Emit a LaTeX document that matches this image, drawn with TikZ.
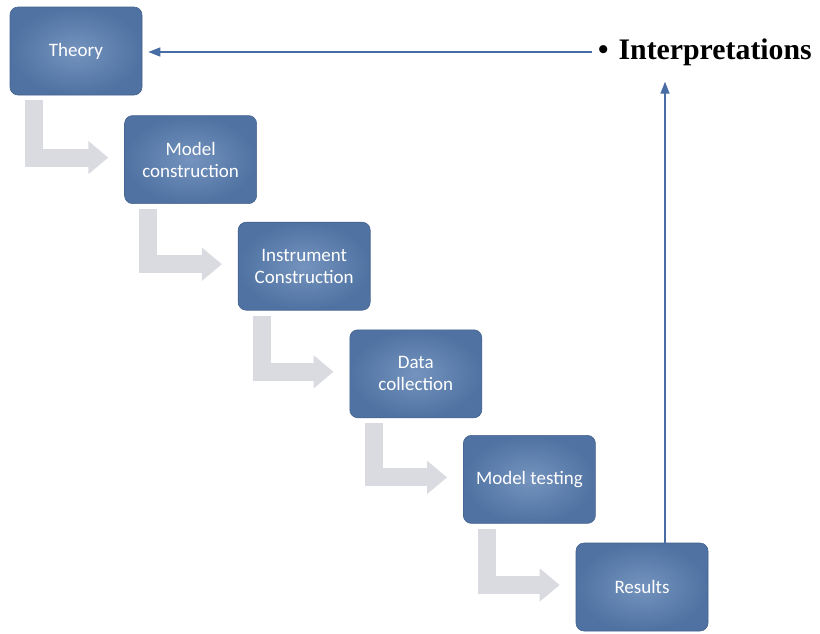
\documentclass[tikz,border=0pt]{standalone}
\usepackage{fontspec}
\setmainfont{Liberation Serif}
\newfontfamily\boxfont{Carlito}
\usepackage{xcolor}
\definecolor{stageblue}{RGB}{86,124,176}
\definecolor{linkblue}{RGB}{72,108,164}
\definecolor{elbowgray}{RGB}{218,219,224}
\usetikzlibrary{arrows.meta, positioning}
\tikzset{
  stagebox/.style={
    rectangle, rounded corners=8pt,
    draw=stageblue!80!black, line width=0.6pt,
    inner color=stageblue!82!white, outer color=stageblue!92!black,
    minimum width=132pt, minimum height=88pt,
    align=center, font=\boxfont\fontsize{19}{22}\selectfont, text=white
  },
  elbow/.style={line width=18pt, color=elbowgray, line join=miter,
    -{Triangle[length=20pt,width=32pt]}},
  link/.style={line width=1.4pt, color=linkblue, -{Triangle[length=12pt,width=9pt]}},
}

\begin{document}
\begin{tikzpicture}[x=1pt, y=1pt]
  \useasboundingbox (0,0) rectangle (820,-633);

  % --- Etapas en escalera ---
  \node (theory) [stagebox] at (76,-51) {Theory};
  \node (model) [stagebox, below right=20pt and -18pt of theory] {Model\\construction};
  \node (instrument) [stagebox, below right=18pt and -19pt of model] {Instrument\\Construction};
  \node (data) [stagebox, below right=19pt and -21pt of instrument] {Data\\collection};
  \node (testing) [stagebox, below right=17pt and -19pt of data] {Model testing};
  \node (results) [stagebox, below right=19pt and -20pt of testing] {Results};

  % --- Interpretaciones ---
  \node (interp) [anchor=west, inner sep=2pt] at (596,-52)
    {\fontsize{29.8}{32}\selectfont\bfseries\textbullet\hspace{10pt}Interpretations};

  % --- Flechas grises entre etapas ---
  \foreach \a/\b in {theory/model, model/instrument, instrument/data, data/testing, testing/results}
    \draw[elbow] ([xshift=24pt, yshift=-5pt]\a.south west) |- ([xshift=-16pt, yshift=2pt]\b.west);

  % --- Retroalimentación ---
  \draw[link, shorten >=14pt] ([xshift=23pt]results.north) -- ([xshift=23pt]results.north |- interp.south);
  \draw[link, shorten >=10pt] ([xshift=-4pt]interp.west) -- ([xshift=-4pt]interp.west -| theory.east);

\end{tikzpicture}
\end{document}
